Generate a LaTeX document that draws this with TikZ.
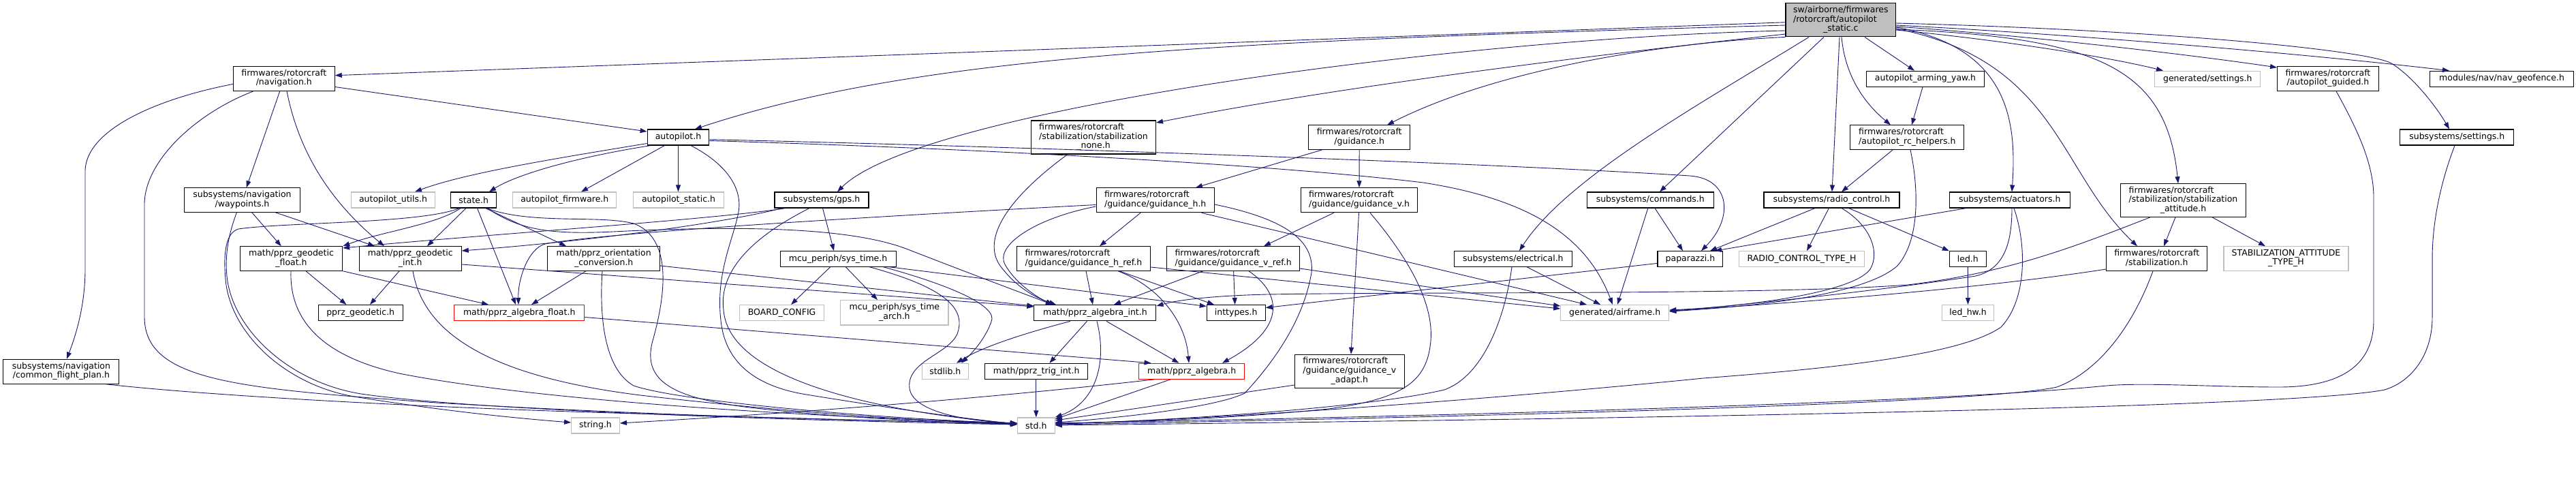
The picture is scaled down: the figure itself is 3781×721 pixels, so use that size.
\documentclass[tikz,border=0pt]{standalone}
\usepackage{fontspec}
\setmainfont{DejaVu Sans}
\usetikzlibrary{arrows.meta}
\definecolor{eblue}{HTML}{191970}
\definecolor{gborder}{HTML}{BFBFBF}
\newcommand{\nodefont}{\fontsize{12.5pt}{13.5pt}\selectfont}
\newcommand{\twol}[2]{\begin{tabular}{@{}l@{}}#1\\\multicolumn{1}{@{}c@{}}{#2}\end{tabular}}
\newcommand{\threel}[3]{\begin{tabular}{@{}l@{}}#1\\#2\\\multicolumn{1}{@{}c@{}}{#3}\end{tabular}}
\tikzset{
  box/.style={draw, line width=1.1pt, inner sep=0pt, font=\nodefont, fill=white},
  doc/.style={box, draw=black},
  nodoc/.style={box, draw=gborder},
  trunc/.style={box, draw=red},
  root/.style={box, draw=black, fill=gborder},
  e/.style={draw=eblue, line width=0.9pt, -{Triangle[length=10pt,width=7pt]}},
}
\begin{document}
\begin{tikzpicture}[x=1pt,y=-1pt]
\fill[white] (0,0) rectangle (3781,721);
\useasboundingbox (0,0) rectangle (3781,721);

% ---------- nodes ----------
\node[root,minimum width=161.6pt,minimum height=49pt] (main) at (2701.8,29.4) {\threel{sw/airborne/firmwares}{/rotorcraft/autopilot}{\_static.c}};
\node[doc,minimum width=148.8pt,minimum height=36pt] (nav) at (416.8,115.3) {\twol{firmwares/rotorcraft}{/navigation.h}};
\node[doc,minimum width=172.5pt,minimum height=23pt] (apyaw) at (2826,115.7) {autopilot\_arming\_yaw.h};
\node[nodoc,minimum width=155pt,minimum height=23pt] (gsettings) at (3240.3,115.7) {generated/settings.h};
\node[doc,minimum width=148.7pt,minimum height=36pt] (apguided) at (3416.9,115.3) {\twol{firmwares/rotorcraft}{/autopilot\_guided.h}};
\node[doc,minimum width=210.5pt,minimum height=23pt] (geofence) at (3672,115.7) {modules/nav/nav\_geofence.h};

\node[doc,minimum width=90.7pt,minimum height=23pt] (ap) at (995.5,201.5) {autopilot.h};
\node[doc,minimum width=183pt,minimum height=49pt] (stabnone) at (1605,201.5) {\threel{firmwares/rotorcraft}{/stabilization/stabilization}{\_none.h}};
\node[doc,minimum width=148.7pt,minimum height=35.6pt] (guid) at (1995.2,201.7) {\twol{firmwares/rotorcraft}{/guidance.h}};
\node[doc,minimum width=167.1pt,minimum height=35.6pt] (rchelp) at (2799.3,201.7) {\twol{firmwares/rotorcraft}{/autopilot\_rc\_helpers.h}};
\node[doc,minimum width=167pt,minimum height=23pt] (settings) at (3606.3,201.5) {subsystems/settings.h};

\node[doc,minimum width=170pt,minimum height=35.5pt] (wp) at (355.5,293.6) {\twol{subsystems/navigation}{/waypoints.h}};
\node[nodoc,minimum width=122.6pt,minimum height=23pt] (aputils) at (577,293.5) {autopilot\_utils.h};
\node[doc,minimum width=67pt,minimum height=23pt] (state) at (695.2,293.5) {state.h};
\node[nodoc,minimum width=152pt,minimum height=23pt] (apfw) at (828.8,293.5) {autopilot\_firmware.h};
\node[nodoc,minimum width=132.4pt,minimum height=23pt] (apstatic) at (996,293.5) {autopilot\_static.h};
\node[doc,minimum width=138pt,minimum height=23pt] (gps) at (1206,293.5) {subsystems/gps.h};
\node[doc,minimum width=173.3pt,minimum height=36pt] (guidh) at (1695.7,293.8) {\twol{firmwares/rotorcraft}{/guidance/guidance\_h.h}};
\node[doc,minimum width=171.3pt,minimum height=36pt] (guidv) at (1995,293.8) {\twol{firmwares/rotorcraft}{/guidance/guidance\_v.h}};
\node[doc,minimum width=186.3pt,minimum height=23pt] (commands) at (2422.3,293.5) {subsystems/commands.h};
\node[doc,minimum width=199pt,minimum height=23pt] (radio) at (2688.5,293.5) {subsystems/radio\_control.h};
\node[doc,minimum width=176.8pt,minimum height=23pt] (actuators) at (2949.7,293.5) {subsystems/actuators.h};
\node[doc,minimum width=183.7pt,minimum height=48.6pt] (stabatt) at (3204.5,294) {\threel{firmwares/rotorcraft}{/stabilization/stabilization}{\_attitude.h}};

\node[doc,minimum width=150.4pt,minimum height=35.5pt] (geofloat) at (427.5,379.5) {\twol{math/pprz\_geodetic}{\_float.h}};
\node[doc,minimum width=150pt,minimum height=35.5pt] (geoint) at (602.2,379.5) {\twol{math/pprz\_geodetic}{\_int.h}};
\node[doc,minimum width=164.7pt,minimum height=35.5pt] (orient) at (886.2,379.5) {\twol{math/pprz\_orientation}{\_conversion.h}};
\node[doc,minimum width=170pt,minimum height=22.5pt] (systime) at (1230.1,379.9) {mcu\_periph/sys\_time.h};
\node[doc,minimum width=196.6pt,minimum height=35.5pt] (guidhref) at (1590.4,379.5) {\twol{firmwares/rotorcraft}{/guidance/guidance\_h\_ref.h}};
\node[doc,minimum width=194.6pt,minimum height=35.5pt] (guidvref) at (1810.1,379.5) {\twol{firmwares/rotorcraft}{/guidance/guidance\_v\_ref.h}};
\node[doc,minimum width=172.5pt,minimum height=22.5pt] (electrical) at (2220.9,379.9) {subsystems/electrical.h};
\node[doc,minimum width=95.9pt,minimum height=22.5pt] (paparazzi) at (2480.9,379.9) {paparazzi.h};
\node[nodoc,minimum width=183.5pt,minimum height=22.5pt] (rctype) at (2644.5,379.9) {RADIO\_CONTROL\_TYPE\_H};
\node[doc,minimum width=53.9pt,minimum height=22.5pt] (led) at (2888.3,379.9) {led.h};
\node[doc,minimum width=148.4pt,minimum height=35.5pt] (stab) at (3165.7,379.5) {\twol{firmwares/rotorcraft}{/stabilization.h}};
\node[nodoc,minimum width=183pt,minimum height=35.5pt] (stabatttype) at (3355.5,379.5) {\twol{STABILIZATION\_ATTITUDE}{\_TYPE\_H}};

\node[doc,minimum width=124.2pt,minimum height=23.3pt] (geodetic) at (529.2,459.2) {pprz\_geodetic.h};
\node[trunc,minimum width=191.2pt,minimum height=23.3pt] (algfloat) at (762.2,459.2) {math/pprz\_algebra\_float.h};
\node[nodoc,minimum width=124.2pt,minimum height=23.3pt] (boardcfg) at (1147.6,459.2) {BOARD\_CONFIG};
\node[nodoc,minimum width=158.2pt,minimum height=36.4pt] (systimearch) at (1312.9,458.8) {\twol{mcu\_periph/sys\_time}{\_arch.h}};
\node[doc,minimum width=179pt,minimum height=23.3pt] (algint) at (1607.4,459.2) {math/pprz\_algebra\_int.h};
\node[doc,minimum width=85.8pt,minimum height=23.3pt] (inttypes) at (1814.2,459.2) {inttypes.h};
\node[nodoc,minimum width=159pt,minimum height=23.3pt] (airframe) at (2370.2,459.2) {generated/airframe.h};
\node[nodoc,minimum width=76pt,minimum height=23.3pt] (ledhw) at (2888.5,459.2) {led\_hw.h};

\node[doc,minimum width=170pt,minimum height=35.9pt] (cfp) at (89.9,545.2) {\twol{subsystems/navigation}{/common\_flight\_plan.h}};
\node[nodoc,minimum width=68.2pt,minimum height=23pt] (stdlib) at (1387.3,544.8) {stdlib.h};
\node[doc,minimum width=151.2pt,minimum height=23pt] (trigint) at (1521.2,544.8) {math/pprz\_trig\_int.h};
\node[trunc,minimum width=155.3pt,minimum height=23pt] (alg) at (1749.2,544.8) {math/pprz\_algebra.h};
\node[doc,minimum width=160.6pt,minimum height=49pt] (guidvadapt) at (1980.8,544.8) {\threel{firmwares/rotorcraft}{/guidance/guidance\_v}{\_adapt.h}};

\node[nodoc,minimum width=70.7pt,minimum height=23pt] (string) at (874,624.5) {string.h};
\node[nodoc,minimum width=54.7pt,minimum height=23pt] (std) at (1520.8,624.5) {std.h};

% ---------- edges from main ----------
\draw[e] (main.west |- 0,32.7) -- (nav.east |- 0,110.7);
\draw[e] (main.west |- 0,37) .. controls (1800,60) and (1350,80) .. (ap.north -| 1020,0);
\draw[e] (main.west |- 0,45) .. controls (2150,55) and (1350,160) .. (gps.north -| 1229,0);
\draw[e] (main.west |- 0,50) .. controls (2300,85) and (1950,130) .. (stabnone.east |- 0,180);
\draw[e] (main.south west) .. controls (2450,62) and (2200,100) .. (guid.north -| 2036,0);
\draw[e] (main.south -| 2655,0) .. controls (2500,150) and (2300,260) .. (electrical.north -| 2230,0);
\draw[e] (main.south -| 2677,0) -- (commands.north -| 2436,0);
\draw[e] (main.south -| 2700,0) -- (radio.north -| 2689,0);
\draw[e] (main.south -| 2737,0) -- (apyaw.north -| 2810,0);
\draw[e] (main.south -| 2703,0) .. controls (2708,110) and (2735,150) .. (rchelp.north -| 2775,0);
\draw[e] (main.east |- 0,40) .. controls (2950,70) and (2960,180) .. (actuators.north -| 2953,0);
\draw[e] (main.east |- 0,42) .. controls (3020,90) and (3020,250) .. (stab.north -| 3137,0);
\draw[e] (main.east |- 0,43) .. controls (3080,55) and (3180,100) .. (stabatt.north -| 3197,0);
\draw[e] (main.east |- 0,44) .. controls (2950,60) and (3100,85) .. (gsettings.north -| 3175,0);
\draw[e] (main.east |- 0,39) .. controls (2950,50) and (3200,78) .. (apguided.west |- 0,99);
\draw[e] (main.east |- 0,37) .. controls (3000,48) and (3350,75) .. (geofence.north -| 3595,0);
\draw[e] (main.east |- 0,34) .. controls (3200,45) and (3480,75) .. (3510,93) .. controls (3540,111) and (3575,155) .. (settings.north -| 3595,0);

% ---------- nav ----------
\draw[e] (nav.west |- 0,123.4) .. controls (230,145) and (127,190) .. (125,250) -- (125,400) .. controls (124,450) and (112,490) .. (cfp.north -| 98,0);
\draw[e] (nav.south -| 372,0) .. controls (290,165) and (212,235) .. (212,300) -- (212,465) .. controls (212,560) and (350,570) .. (640,591) .. controls (1000,612) and (1300,618) .. (std.west |- 0,621);
\draw[e] (nav.south -| 410.7,0) -- (wp.north -| 361.7,0);
\draw[e] (nav.south -| 421,0) .. controls (440,230) and (490,300) .. (geoint.north -| 564,0);
\draw[e] (nav.east |- 0,127.5) -- (ap.west |- 0,193);

% ---------- waypoints ----------
\draw[e] (wp.south -| 369.8,0) -- (geofloat.north -| 412.8,0);
\draw[e] (wp.south -| 404.6,0) -- (geoint.north -| 550,0);
\draw[e] (wp.south -| 347.4,0) .. controls (335,345) and (330,375) .. (333,405) .. controls (340,480) and (420,560) .. (530,578) .. controls (700,603) and (1200,618) .. (std.west |- 0,623);

% ---------- state ----------
\draw[e] (state.south -| 674,0) .. controls (620,328) and (420,326) .. (350,336) .. controls (330,342) and (328,375) .. (331,410) .. controls (338,490) and (420,565) .. (520,582) .. controls (650,603) and (750,613) .. (string.west |- 0,620);
\draw[e] (state.south -| 676,0) .. controls (640,330) and (560,340) .. (geofloat.north east);
\draw[e] (state.south -| 684,0) -- (geoint.north -| 627,0);
\draw[e] (state.south -| 700.5,0) -- (algfloat.north -| 757,0);
\draw[e] (state.south -| 712.7,0) -- (orient.north -| 831,0);
\draw[e] (state.south -| 715,0) .. controls (760,335) and (800,345) .. (900,340) .. controls (1100,330) and (1250,335) .. (1330,365) .. controls (1420,400) and (1500,430) .. (algint.north -| 1545,0);
\draw[e] (state.south -| 714,0) .. controls (780,330) and (880,315) .. (930,328) .. controls (990,350) and (975,440) .. (958,500) .. controls (940,565) and (1000,585) .. (1100,598) .. controls (1250,615) and (1400,620) .. (std.west |- 0,623);

% ---------- autopilot.h ----------
\draw[e] (ap.west |- 0,210.5) .. controls (800,235) and (680,255) .. (aputils.north -| 609,0);
\draw[e] (ap.south -| 955,0) .. controls (850,230) and (760,255) .. (state.north -| 718,0);
\draw[e] (ap.south -| 975.5,0) -- (apfw.north -| 853,0);
\draw[e] (ap.south -| 995.5,0) -- (apstatic.north -| 995.5,0);
\draw[e] (ap.south -| 1014,0) .. controls (1065,240) and (1090,275) .. (1084,311) .. controls (1077,350) and (1050,400) .. (1058,470) .. controls (1065,540) and (1120,570) .. (1190,580) .. controls (1300,598) and (1420,615) .. (std.west |- 0,622);
\draw[e] (ap.east |- 0,204.7) .. controls (1500,215) and (2200,240) .. (2480,258) .. controls (2540,262) and (2545,320) .. (paparazzi.north -| 2497,0);
\draw[e] (ap.east |- 0,206.5) .. controls (1500,220) and (1900,245) .. (2089,268) .. controls (2250,293) and (2330,350) .. (airframe.north -| 2367,0);

% ---------- gps ----------
\draw[e] (gps.south -| 1153,0) .. controls (1050,322) and (700,345) .. (geofloat.east |- 0,364);
\draw[e] (gps.south -| 1148,0) .. controls (1050,330) and (850,355) .. (geoint.east |- 0,368);
\draw[e] (gps.south -| 1207.5,0) -- (systime.north -| 1224,0);
\draw[e] (gps.south -| 1188,0) .. controls (1100,350) and (1055,400) .. (1062,455) .. controls (1070,560) and (1300,605) .. (std.west |- 0,622);

% ---------- stabilization_none ----------
\draw[e] (stabnone.south -| 1567,0) .. controls (1480,290) and (1440,350) .. (1468,390) .. controls (1492,422) and (1520,437) .. (algint.north -| 1550,0);

% ---------- guidance ----------
\draw[e] (guid.south -| 1940,0) -- (guidh.north -| 1755,0);
\draw[e] (guid.south) -- (guidv.north);

% ---------- rc helpers / arming ----------
\draw[e] (rchelp.south -| 2778,0) -- (radio.north -| 2703,0);
\draw[e] (rchelp.south -| 2804,0) .. controls (2815,270) and (2820,350) .. (2785,390) .. controls (2740,430) and (2600,448) .. (airframe.east |- 0,457);
\draw[e] (apyaw.south -| 2822,0) -- (rchelp.north -| 2806,0);

% ---------- guided / settings ----------
\draw[e] (apguided.south -| 3429,0) .. controls (3460,190) and (3484,240) .. (3484,290) -- (3484,470) .. controls (3484,540) and (3430,568) .. (3345,568) .. controls (3250,568) and (3150,561) .. (3092,566) .. controls (2800,595) and (1900,615) .. (std.east |- 0,621);
\draw[e] (settings.south -| 3603,0) .. controls (3585,260) and (3570,320) .. (3570,380) -- (3570,466) .. controls (3570,520) and (3540,560) .. (3500,572) .. controls (3400,592) and (2800,610) .. (std.east |- 0,624);

% ---------- stabilization ----------
\draw[e] (stabatt.south -| 3193,0) -- (stab.north -| 3176,0);
\draw[e] (stabatt.south -| 3247,0) -- (stabatttype.north -| 3325,0);
\draw[e] (stabatt.south -| 3156,0) .. controls (3050,360) and (2950,400) .. (2800,418) .. controls (2600,433) and (2100,428) .. (1860,432) .. controls (1780,434) and (1730,440) .. (algint.east |- 0,449);
\draw[e] (stab.west |- 0,395) .. controls (2900,425) and (2600,447) .. (airframe.east |- 0,456);
\draw[e] (stab.south -| 3160,0) .. controls (3130,480) and (3080,545) .. (3019,568) .. controls (2900,595) and (2000,615) .. (std.east |- 0,623);

% ---------- actuators ----------
\draw[e] (actuators.south -| 2886,0) -- (paparazzi.north -| 2517,0);
\draw[e] (actuators.south -| 2953,0) .. controls (2953,360) and (2940,395) .. (2900,405) .. controls (2750,428) and (2550,448) .. (airframe.east |- 0,457);
\draw[e] (actuators.south -| 2956,0) .. controls (2975,360) and (2975,440) .. (2937,480) .. controls (2880,520) and (2700,540) .. (2500,555) .. controls (2200,585) and (1800,615) .. (std.east |- 0,622);

% ---------- radio control ----------
\draw[e] (radio.south -| 2664,0) -- (paparazzi.north -| 2510,0);
\draw[e] (radio.south -| 2684.4,0) -- (rctype.north -| 2652,0);
\draw[e] (radio.south -| 2713.6,0) -- (led.north west);
\draw[e] (radio.south -| 2703,0) .. controls (2745,330) and (2760,370) .. (2745,395) .. controls (2720,430) and (2560,450) .. (airframe.east |- 0,455);

% ---------- commands / paparazzi / electrical ----------
\draw[e] (commands.south -| 2429,0) -- (paparazzi.north -| 2470,0);
\draw[e] (commands.south -| 2418.8,0) -- (airframe.north -| 2374,0);
\draw[e] (paparazzi.west |- 0,386.4) -- (inttypes.east |- 0,451.6);
\draw[e] (electrical.south -| 2241,0) -- (airframe.north -| 2349,0);
\draw[e] (electrical.south -| 2219,0) .. controls (2210,460) and (2180,550) .. (2120,572) .. controls (2000,600) and (1700,618) .. (std.east |- 0,622);

% ---------- guidance_h ----------
\draw[e] (guidh.south -| 1674,0) -- (guidhref.north -| 1614,0);
\draw[e] (guidh.west |- 0,300.5) .. controls (1200,322) and (880,343) .. (800,358) .. controls (775,365) and (760,410) .. (algfloat.north -| 761,0);
\draw[e] (guidh.west |- 0,303) .. controls (1520,320) and (1460,360) .. (1475,388) .. controls (1490,415) and (1520,435) .. (algint.north -| 1545,0);
\draw[e] (guidh.east |- 0,300) .. controls (1880,320) and (1930,350) .. (1925,400) .. controls (1915,460) and (1880,520) .. (1827,577) .. controls (1780,600) and (1620,615) .. (std.east |- 0,620);
\draw[e] (guidh.south -| 1763.6,0) -- (airframe.north -| 2329,0);

% ---------- guidance_v ----------
\draw[e] (guidv.south -| 1957.7,0) -- (guidvref.north -| 1855,0);
\draw[e] (guidv.south -| 1994.5,0) -- (guidvadapt.north -| 1983,0);
\draw[e] (guidv.south -| 2011,0) .. controls (2060,370) and (2105,440) .. (2100,500) .. controls (2095,560) and (2060,585) .. (1950,600) .. controls (1800,615) and (1650,620) .. (std.east |- 0,621);

% ---------- guidance refs ----------
\draw[e] (guidhref.south -| 1594,0) -- (algint.north -| 1604,0);
\draw[e] (guidhref.south -| 1641,0) .. controls (1700,420) and (1740,470) .. (alg.north -| 1745,0);
\draw[e] (guidhref.south -| 1643,0) -- (inttypes.north -| 1782,0);
\draw[e] (guidhref.east |- 0,392) -- (airframe.west |- 0,453);
\draw[e] (guidvref.south -| 1765.6,0) -- (algint.north -| 1635,0);
\draw[e] (guidvref.south -| 1810.6,0) -- (inttypes.north -| 1812.6,0);
\draw[e] (guidvref.south -| 1833,0) .. controls (1880,430) and (1890,480) .. (alg.north -| 1794,0);
\draw[e] (guidvref.east |- 0,394) -- (airframe.west |- 0,449);
\draw[e] (guidvadapt.west |- 0,565) -- (std.east |- 0,617);

% ---------- orientation / geodetic ----------
\draw[e] (orient.south -| 860,0) -- (algfloat.north -| 780,0);
\draw[e] (orient.south -| 884,0) .. controls (880,460) and (885,540) .. (930,566) .. controls (1000,590) and (1300,615) .. (std.west |- 0,621);
\draw[e] (orient.east |- 0,390) -- (algint.west |- 0,449);
\draw[e] (geofloat.south -| 449,0) -- (geodetic.north -| 508.4,0);
\draw[e] (geofloat.south east) -- (algfloat.north -| 717,0);
\draw[e] (geofloat.south -| 427,0) .. controls (425,460) and (460,520) .. (586,548) .. controls (800,590) and (1200,612) .. (std.west |- 0,621);
\draw[e] (geoint.south -| 586,0) -- (geodetic.north -| 543,0);
\draw[e] (geoint.east |- 0,388) -- (algint.west |- 0,450);
\draw[e] (geoint.south -| 606,0) .. controls (620,480) and (700,550) .. (940,580) .. controls (1200,610) and (1400,620) .. (std.west |- 0,621);

% ---------- sys_time ----------
\draw[e] (systime.south -| 1218.8,0) -- (boardcfg.north -| 1161,0);
\draw[e] (systime.south -| 1241.2,0) -- (systimearch.north -| 1288,0);
\draw[e] (systime.south -| 1276,0) .. controls (1380,420) and (1420,450) .. (1405,490) .. controls (1392,520) and (1330,530) .. (1335,570) .. controls (1340,605) and (1420,618) .. (std.west |- 0,621);
\draw[e] (systime.south -| 1296.4,0) .. controls (1400,420) and (1465,450) .. (1455,472) .. controls (1447,495) and (1430,515) .. (stdlib.north -| 1411,0);
\draw[e] (systime.south -| 1305,0) -- (inttypes.west |- 0,449.5);

% ---------- algebra ----------
\draw[e] (algfloat.east |- 0,465.5) -- (alg.north -| 1689.5,0);
\draw[e] (algint.south -| 1571,0) .. controls (1500,490) and (1440,510) .. (stdlib.north -| 1404,0);
\draw[e] (algint.south -| 1595.5,0) -- (trigint.north -| 1540.4,0);
\draw[e] (algint.south -| 1624,0) -- (alg.north -| 1730.4,0);
\draw[e] (algint.south -| 1610,0) .. controls (1625,530) and (1610,590) .. (std.north east);
\draw[e] (trigint.south -| 1520.8,0) -- (std.north -| 1520.8,0);
\draw[e] (alg.south -| 1718,0) -- (std.east |- 0,615);
\draw[e] (alg.south -| 1694,0) .. controls (1400,590) and (1100,610) .. (string.east |- 0,621);

% ---------- misc ----------
\draw[e] (cfp.south -| 155,0) .. controls (300,580) and (600,597) .. (900,606) .. controls (1200,615) and (1400,620) .. (std.west |- 0,622);
\draw[e] (led.south) -- (ledhw.north);
\end{tikzpicture}
\end{document}
